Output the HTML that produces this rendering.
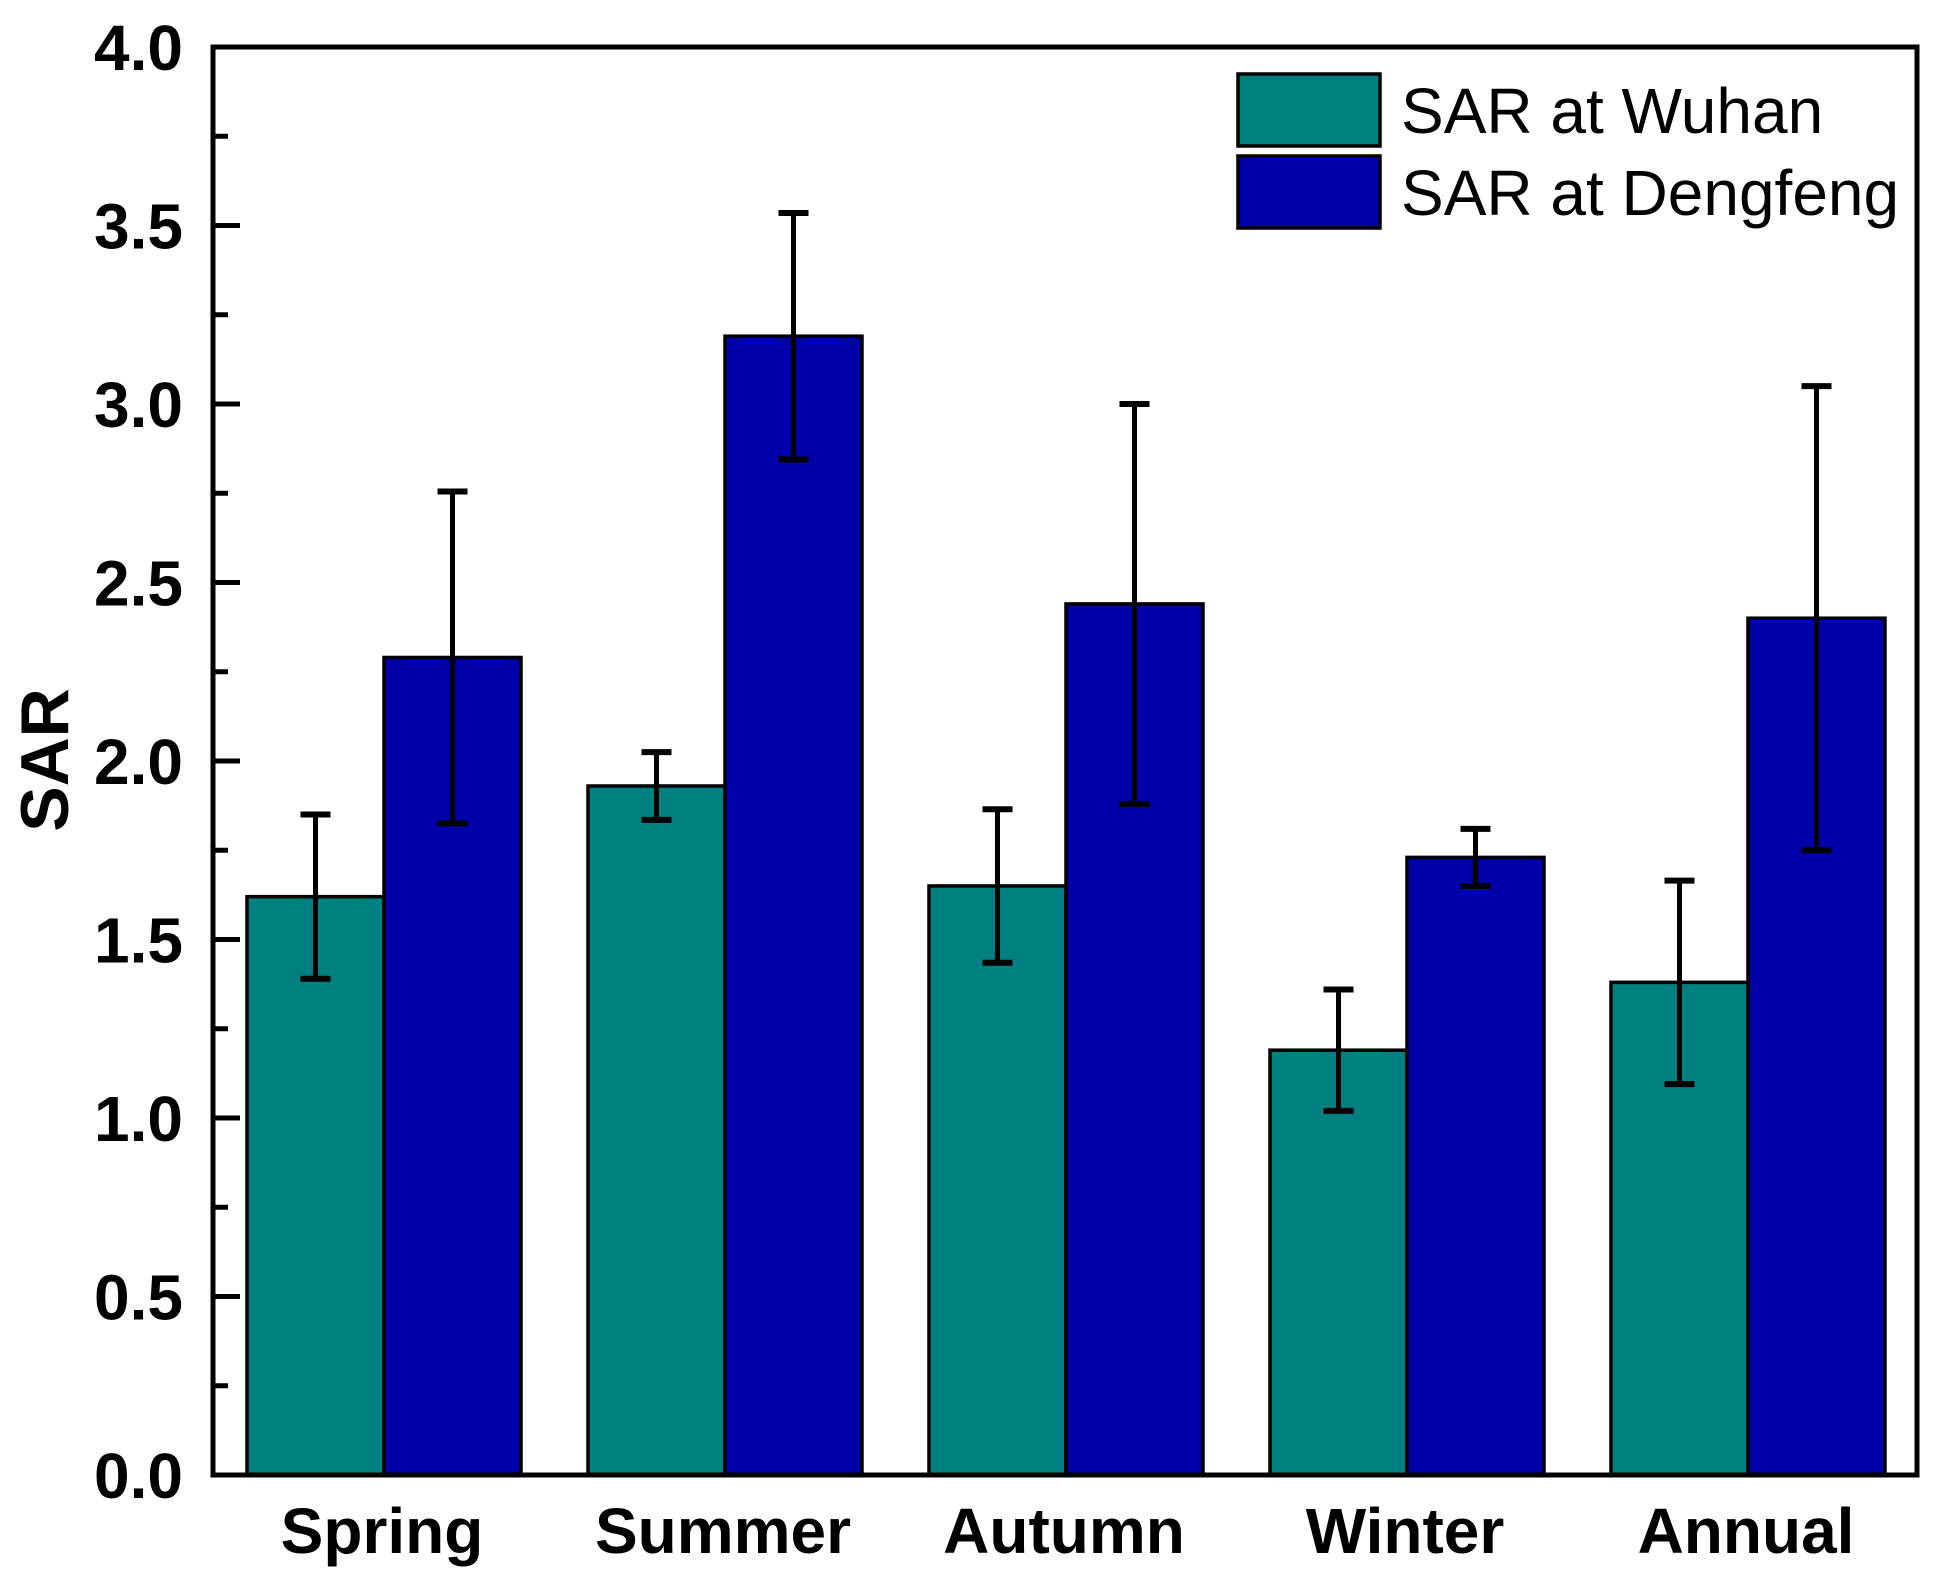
<!DOCTYPE html>
<html><head><meta charset="utf-8"><style>
html,body{margin:0;padding:0;background:#fff;}
svg{display:block;}
</style></head><body>
<svg id="chart" width="1939" height="1579" viewBox="0 0 1939 1579" xmlns="http://www.w3.org/2000/svg" font-family="'Liberation Sans', Arial, sans-serif">
<g id="bars"></g>
<g id="errs"></g>
<g id="axes"></g>
<g>
<rect x="1238" y="74" width="142" height="72" fill="#008080" stroke="#000" stroke-width="3.5"/>
<text x="1401" y="133" font-size="64">SAR at Wuhan</text>
<rect x="1238" y="156" width="142" height="72" fill="#0000AA" stroke="#000" stroke-width="3.5"/>
<text x="1401" y="215" font-size="64">SAR at Dengfeng</text>
</g>
<text transform="translate(68,760) rotate(-90)" text-anchor="middle" font-size="68" font-weight="bold">SAR</text>
</svg>
<script>
const categories = ["Spring","Summer","Autumn","Winter","Annual"];
const wuhanValues = [1.62,1.93,1.65,1.19,1.38];
const wuhanErrors = [0.23,0.095,0.215,0.17,0.285];
const dengfengValues = [2.29,3.19,2.44,1.73,2.40];
const dengfengErrors = [0.465,0.345,0.56,0.08,0.65];
const yTicks = ["0.0","0.5","1.0","1.5","2.0","2.5","3.0","3.5","4.0"];

const NS="http://www.w3.org/2000/svg";
const L=213,R=1917,T=47,B=1475,yMax=4;
const y=v=>B-(v/yMax)*(B-T);
const groupStart=247,groupStep=341,barW=137;
const x=(i,s)=>groupStart+i*groupStep+s*barW;
function mk(tag,attrs,parent){const e=document.createElementNS(NS,tag);for(const k in attrs)e.setAttribute(k,attrs[k]);parent.appendChild(e);return e;}
const bars=document.getElementById('bars'),errs=document.getElementById('errs'),axes=document.getElementById('axes');
const series=[[wuhanValues,wuhanErrors,"#008080","wuhan"],[dengfengValues,dengfengErrors,"#0000AA","dengfeng"]];
categories.forEach((c,i)=>{
  series.forEach(([vals,er,col,nm],s)=>{
    const r=mk('rect',{x:x(i,s),y:y(vals[i]),width:barW,height:B-y(vals[i]),fill:col,stroke:'#000','stroke-width':3.5},bars);
    
    
    const cx=x(i,s)+barW/2;
    const g=mk('g',{stroke:'#000','stroke-width':5},errs);
    
    
    mk('line',{x1:cx,x2:cx,y1:y(vals[i]+er[i]),y2:y(vals[i]-er[i])},g);
    mk('line',{x1:cx-15,x2:cx+15,y1:y(vals[i]+er[i]),y2:y(vals[i]+er[i]),'stroke-width':6},g);
    mk('line',{x1:cx-15,x2:cx+15,y1:y(vals[i]-er[i]),y2:y(vals[i]-er[i]),'stroke-width':6},g);
  });
  const t=mk('text',{x:x(i,1)-2,y:1553,'text-anchor':'middle','font-size':64,'font-weight':'bold'},axes);
  t.textContent=c;
  
  
});
const frame=mk('rect',{x:L,y:T,width:R-L,height:B-T,fill:'none',stroke:'#000','stroke-width':5},axes);


yTicks.forEach((lab,k)=>{
  const v=parseFloat(lab),yy=y(v);
  mk('line',{x1:L,x2:L+27,y1:yy,y2:yy,stroke:'#000','stroke-width':5},axes);
  if(k<yTicks.length-1){const ym=y(v+0.25);mk('line',{x1:L,x2:L+15,y1:ym,y2:ym,stroke:'#000','stroke-width':5},axes);}
  const t=mk('text',{x:183,y:yy+23,'text-anchor':'end','font-size':64,'font-weight':'bold'},axes);
  t.textContent=lab;
  
  
});
</script>
</body></html>
